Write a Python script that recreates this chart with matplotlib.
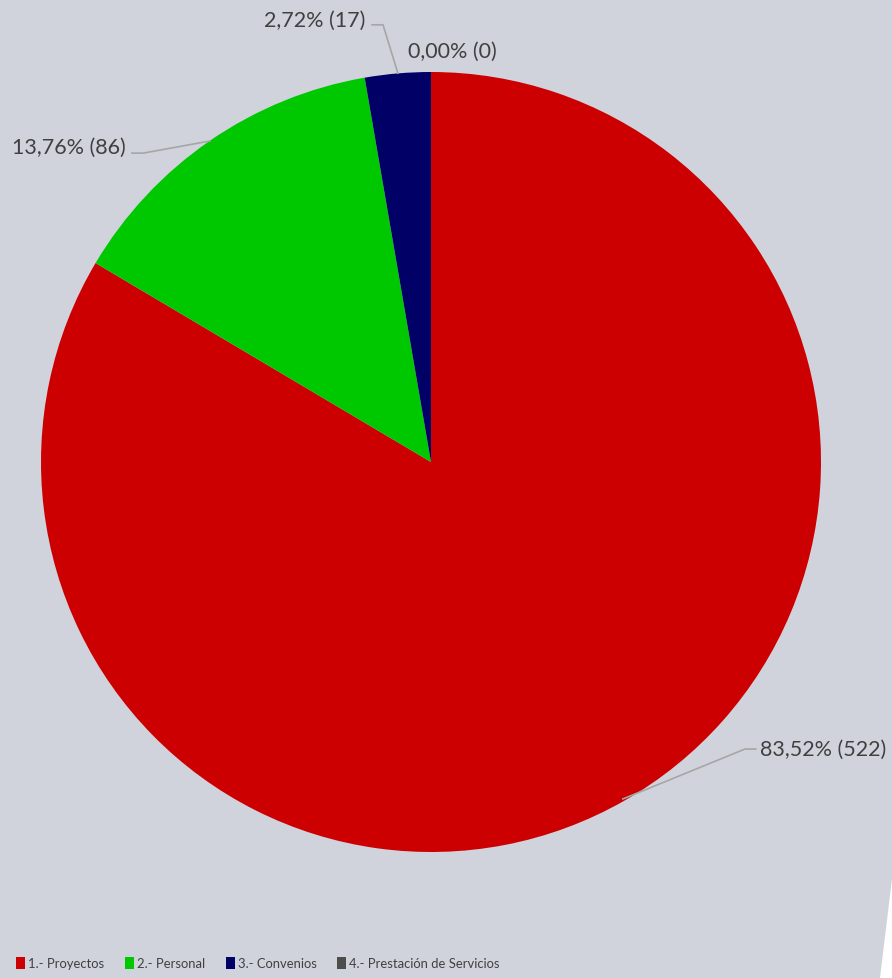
from matplotlib import pyplot as plt
import matplotlib.patches as patches

# data
categories = ['1.- Proyectos', '2.- Personal', '3.- Convenios', '4.- Prestación de Servicios']
counts = [522, 86, 17, 0]
percents = ['83,52%', '13,76%', '2,72%', '0,00%']
colors = ['#cc0000', '#00c800', '#000066', '#4d4d4d']

bg = '#d0d3dc'
txt = '#404040'
font = 'Lato'

fig = plt.figure(figsize=(8.92, 9.79), dpi=100, facecolor=bg)
ax = fig.add_axes([41/892, 126/979, 780/892, 780/979])
ax.set_facecolor(bg)

wedges, _ = ax.pie(counts, colors=colors, startangle=90, counterclock=False,
                   radius=1, wedgeprops=dict(linewidth=0))
ax.set_xlim(-1, 1)
ax.set_ylim(-1, 1)
ax.set_aspect('equal')
ax.axis('off')

labels = [f'{p} ({c})' for p, c in zip(percents, counts)]

# label positions (data coords), leader lines
lc = '#a6a6a6'
fs = 15.5
ax.plot([0.492, 0.805, 0.833], [-0.864, -0.736, -0.736], c=lc, lw=1.2, clip_on=False)
ax.text(0.844, -0.736, labels[0], ha='left', va='center', fontsize=fs, color=txt, family=font)

ax.plot([-0.567, -0.738, -0.767], [0.823, 0.792, 0.792], c=lc, lw=1.2, clip_on=False)
ax.text(-0.782, 0.808, labels[1], ha='right', va='center', fontsize=fs, color=txt, family=font)

ax.plot([-0.085, -0.123, -0.151], [0.997, 1.121, 1.121], c=lc, lw=1.2, clip_on=False)
ax.text(-0.169, 1.133, labels[2], ha='right', va='center', fontsize=fs, color=txt, family=font)

ax.text(-0.059, 1.054, labels[3], ha='left', va='center', fontsize=fs, color=txt, family=font)

# legend
handles = [patches.Patch(facecolor=c, edgecolor='none') for c in colors]
fig.legend(handles, categories, loc='center left', bbox_to_anchor=(16/892, 1 - 964/979),
           ncol=4, frameon=False, handlelength=0.7, handleheight=1.05, handletextpad=0.25,
           columnspacing=1.55, borderpad=0, borderaxespad=0,
           prop={'family': font, 'size': 9.4}, labelcolor=txt)

# white corner artifact
fig.patches.append(patches.Polygon([(892/892, 1 - 880/979), (880/892, 0), (1, 0)],
                                   closed=True, transform=fig.transFigure,
                                   facecolor='white', edgecolor='none'))

plt.savefig('out.png', dpi=100, facecolor=bg)
